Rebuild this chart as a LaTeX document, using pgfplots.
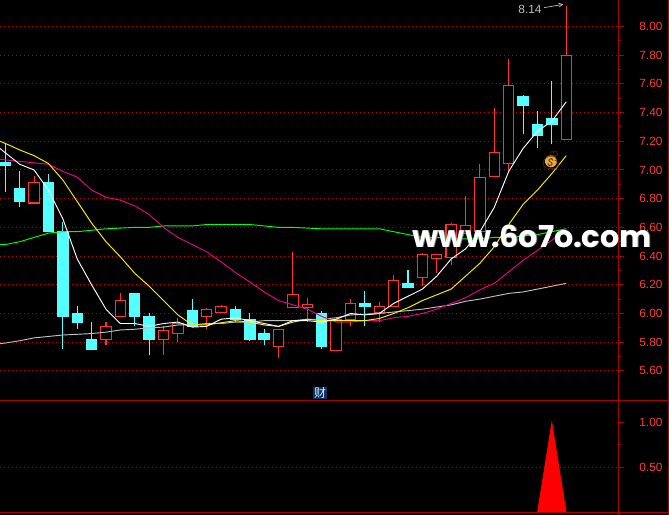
\documentclass[border=0pt]{standalone}
\usepackage{pgfplots}
\pgfplotsset{compat=1.18}
\usetikzlibrary{arrows.meta}
\usepackage{fontspec}
\setmainfont{Liberation Sans}
\newfontfamily\cjk{Noto Sans CJK SC}
\newfontfamily\wm{Poppins}
\newfontfamily\emoji{Noto Emoji}
\definecolor{cand}{RGB}{255,50,50}
\definecolor{cy}{RGB}{84,255,255}
\definecolor{frame}{RGB}{170,0,0}
\definecolor{griddot}{RGB}{190,0,0}
\definecolor{lab}{RGB}{255,60,60}
\definecolor{ma120}{RGB}{192,192,192}
\definecolor{bagfill}{RGB}{232,172,64}
\definecolor{bagline}{RGB}{90,50,0}
\definecolor{caibg}{RGB}{10,50,100}
\definecolor{caifg}{RGB}{215,235,255}
\newcommand{\bw}{0.36}
% \up / \dn {x}{low}{bottom}{top}{high}
\newcommand{\up}[5]{%
  \pgfmathsetmacro\xa{#1-\bw}\pgfmathsetmacro\xb{#1+\bw}%
  \addplot[cand,line width=0.8pt] coordinates {(#1,#2)(#1,#5)};
  \addplot[draw=cand,fill=black,line width=0.8pt] coordinates {(\xa,#3)(\xb,#3)(\xb,#4)(\xa,#4)} --cycle;
}
\newcommand{\dn}[5]{%
  \pgfmathsetmacro\xa{#1-\bw}\pgfmathsetmacro\xb{#1+\bw}%
  \addplot[cy,line width=0.8pt] coordinates {(#1,#2)(#1,#5)};
  \addplot[draw=cy,fill=cy,line width=0.8pt] coordinates {(\xa,#3)(\xb,#3)(\xb,#4)(\xa,#4)} --cycle;
}
\pgfplotsset{panel/.style={
  scale only axis, width=463.5pt,
  xmin=-0.369, xmax=42.6,
  axis x line=none, axis y line*=right,
  y axis line style={draw=none},
  ticklabel style={text=lab,font=\fontsize{8.9}{10}\selectfont},
  yticklabel style={anchor=west,xshift=8pt},
  /pgf/number format/.cd,fixed,fixed zerofill,precision=2,assume math mode=true,
  /pgfplots/.cd,
  major tick style={draw=frame,line width=0.75pt},
  minor tick style={draw=frame,line width=0.75pt},
  tick align=outside, major tick length=4.5pt, minor tick length=2.2pt,
  grid=major, major grid style={griddot,line width=0.75pt,dash pattern=on 0.75pt off 2.25pt},
}}
\begin{document}
\begin{tikzpicture}[x=1pt,y=1pt]
\fill[black] (0,0) rectangle (501.75,386.25);
\path[use as bounding box] (0,0) rectangle (501.75,386.25);
\begin{axis}[panel, name=top, at={(0,78.2)}, anchor=south west, height=300.75pt,
  ymin=5.3777, ymax=8.1721,
  ytick={5.6,5.8,6.0,6.2,6.4,6.6,6.8,7.0,7.2,7.4,7.6,7.8,8.0},
  minor ytick={5.7,5.9,6.1,6.3,6.5,6.7,6.9,7.1,7.3,7.5,7.7,7.9},
]
\dn{0}{6.85}{7.03}{7.05}{7.185}
\dn{1}{6.74}{6.78}{6.87}{6.99}
\up{2}{6.77}{6.77}{6.91}{6.96}
\dn{3}{6.57}{6.57}{6.91}{6.97}
\dn{4}{5.75}{5.98}{6.57}{6.64}
\dn{5}{5.89}{5.94}{6.00}{6.05}
\dn{6}{5.75}{5.75}{5.82}{5.94}
\up{7}{5.78}{5.82}{5.91}{5.94}
\up{8}{5.98}{5.98}{6.09}{6.14}
\dn{9}{5.91}{5.98}{6.14}{6.14}
\dn{10}{5.71}{5.82}{5.98}{6.00}
\up{11}{5.71}{5.82}{5.88}{5.91}
\up{12}{5.80}{5.86}{5.93}{5.97}
\dn{13}{5.91}{5.91}{6.02}{6.10}
\up{14}{5.89}{5.98}{6.03}{6.04}
\up{15}{6.00}{6.01}{6.05}{6.06}
\dn{16}{5.94}{5.96}{6.03}{6.05}
\dn{17}{5.81}{5.82}{5.96}{6.00}
\dn{18}{5.78}{5.82}{5.86}{5.89}
\up{19}{5.69}{5.77}{5.89}{5.89}
\up{20}{6.04}{6.04}{6.135}{6.43}
\up{21}{5.94}{6.04}{6.065}{6.11}
\dn{22}{5.75}{5.77}{6.00}{6.02}
\up{23}{5.74}{5.74}{5.96}{5.97}
\up{24}{5.91}{5.96}{6.07}{6.10}
\dn{25}{5.91}{6.05}{6.07}{6.16}
\up{26}{5.94}{6.01}{6.05}{6.08}
\up{27}{6.05}{6.05}{6.23}{6.27}
\dn{28}{6.18}{6.18}{6.21}{6.30}
\up{29}{6.19}{6.25}{6.41}{6.42}
\up{30}{6.28}{6.38}{6.41}{6.41}
\up{31}{6.34}{6.39}{6.62}{6.63}
\up{32}{6.56}{6.56}{6.61}{6.82}
\up{33}{6.57}{6.57}{6.95}{7.04}
\up{34}{6.955}{6.955}{7.12}{7.43}
\up{35}{6.99}{7.045}{7.59}{7.77}
\dn{36}{7.25}{7.45}{7.51}{7.52}
\dn{37}{7.15}{7.24}{7.32}{7.41}
\dn{38}{7.18}{7.32}{7.36}{7.62}
\up{39}{7.21}{7.21}{7.80}{8.14}
% MA120
\addplot[ma120,line width=0.7pt] coordinates {(-0.37,5.79)(0,5.794)(1,5.81)(2,5.83)(3,5.84)(4,5.85)(5,5.855)(6,5.86)(7,5.87)(8,5.885)(9,5.89)(10,5.90)(11,5.905)(12,5.92)(13,5.92)(14,5.93)(15,5.93)(16,5.94)(17,5.94)(18,5.95)(19,5.95)(20,5.95)(21,5.96)(22,5.96)(23,5.97)(24,5.99)(25,5.995)(26,6.00)(27,6.01)(28,6.02)(29,6.03)(30,6.045)(31,6.06)(32,6.085)(33,6.10)(34,6.12)(35,6.14)(36,6.15)(37,6.17)(38,6.19)(39,6.21)};
% MA60
\addplot[green,line width=0.7pt] coordinates {(-0.37,6.48)(0,6.48)(1,6.50)(2,6.53)(3,6.56)(4,6.57)(5,6.57)(6,6.58)(7,6.59)(8,6.595)(9,6.60)(10,6.60)(11,6.61)(12,6.61)(13,6.61)(14,6.62)(15,6.62)(16,6.62)(17,6.62)(18,6.61)(19,6.60)(20,6.60)(21,6.595)(22,6.59)(23,6.59)(24,6.59)(25,6.59)(26,6.59)(27,6.57)(28,6.55)(29,6.53)(30,6.53)(31,6.52)(32,6.52)(33,6.52)(34,6.53)(35,6.53)(36,6.54)(37,6.55)(38,6.57)(39,6.59)};
% MA20
\addplot[magenta,line width=0.7pt] coordinates {(-0.37,7.075)(0,7.07)(1,7.06)(2,7.05)(3,7.04)(4,6.99)(5,6.95)(6,6.86)(7,6.81)(8,6.79)(9,6.75)(10,6.69)(11,6.60)(12,6.53)(13,6.48)(14,6.43)(15,6.36)(16,6.285)(17,6.22)(18,6.15)(19,6.09)(20,6.06)(21,6.03)(22,5.98)(23,5.94)(24,5.94)(25,5.95)(26,5.95)(27,5.97)(28,5.98)(29,6.00)(30,6.03)(31,6.07)(32,6.11)(33,6.165)(34,6.21)(35,6.29)(36,6.37)(37,6.44)(38,6.51)(39,6.59)};
% MA10
\addplot[yellow,line width=0.7pt] coordinates {(-0.37,7.20)(0,7.185)(1,7.14)(2,7.10)(3,7.045)(4,6.93)(5,6.78)(6,6.63)(7,6.50)(8,6.395)(9,6.28)(10,6.19)(11,6.09)(12,5.99)(13,5.92)(14,5.92)(15,5.935)(16,5.95)(17,5.94)(18,5.92)(19,5.91)(20,5.94)(21,5.96)(22,5.95)(23,5.95)(24,5.95)(25,5.95)(26,5.965)(27,6.00)(28,6.04)(29,6.09)(30,6.13)(31,6.17)(32,6.26)(33,6.35)(34,6.465)(35,6.62)(36,6.76)(37,6.86)(38,6.975)(39,7.10)};
% MA5
\addplot[white,line width=0.7pt] coordinates {(-0.37,7.15)(0,7.12)(1,7.04)(2,7.00)(3,6.86)(4,6.66)(5,6.38)(6,6.20)(7,6.03)(8,5.93)(9,5.93)(10,5.91)(11,5.93)(12,5.94)(13,5.905)(14,5.91)(15,5.96)(16,5.97)(17,5.95)(18,5.93)(19,5.91)(20,5.95)(21,5.95)(22,5.94)(23,5.96)(24,6.00)(25,5.99)(26,6.00)(27,6.07)(28,6.12)(29,6.17)(30,6.26)(31,6.38)(32,6.45)(33,6.57)(34,6.74)(35,6.99)(36,7.15)(37,7.27)(38,7.34)(39,7.475)};
\end{axis}
\begin{axis}[panel, name=bot, at={(0,1.8)}, anchor=south west, height=83.7pt,
  ymin=-0.01, ymax=1.23,
  ytick={0.5,1.0}, minor ytick={0.75},
  ymajorgrids=false,
]
\draw[griddot,line width=0.75pt,dash pattern=on 0.75pt off 2.25pt] (axis cs:-0.369,0.5) -- (axis cs:42.6,0.5);
\addplot[draw=red,fill=red,line width=0.5pt] coordinates {(37,0)(38,1.00)(39,0)} --cycle;
\end{axis}
% frame
\draw[frame,line width=0.75pt] (463.5,0) -- (463.5,386.25);
\draw[frame,line width=0.75pt] (0,85.5) -- (501.75,85.5);
\draw[frame,line width=0.75pt] (0,2.0) -- (501.75,2.0);
\draw[frame,line width=0.75pt] (501.2,0) -- (501.2,386.25);
% annotations
\node[anchor=center,text=ma120,font=\fontsize{8.9}{10}\selectfont,inner sep=0pt] at (397.5,379.5) {8.14};
\draw[ma120,line width=0.5pt,-{Straight Barb[length=3pt,width=3pt]}] (408,380.5) -- (422.5,383);
\node[fill=caibg,text=caifg,font=\cjk\fontsize{9}{10}\selectfont,inner sep=0.6pt] at (240,91.5) {财};
\fill[bagfill] (413.2,265.3) circle (4.5pt);
\node[text=bagline,font=\emoji\fontsize{13.5}{14}\selectfont,inner sep=0pt] at (413.2,266.2) {💰};
% watermark
\node[anchor=center,text=gray,font=\wm\bfseries\fontsize{22.6}{26}\selectfont,inner sep=0pt] at (399.6,208.6) {www.6o7o.com};
\node[anchor=center,text=white,font=\wm\bfseries\fontsize{22.6}{26}\selectfont,inner sep=0pt] at (399,209) {www.6o7o.com};
\end{tikzpicture}
\end{document}
